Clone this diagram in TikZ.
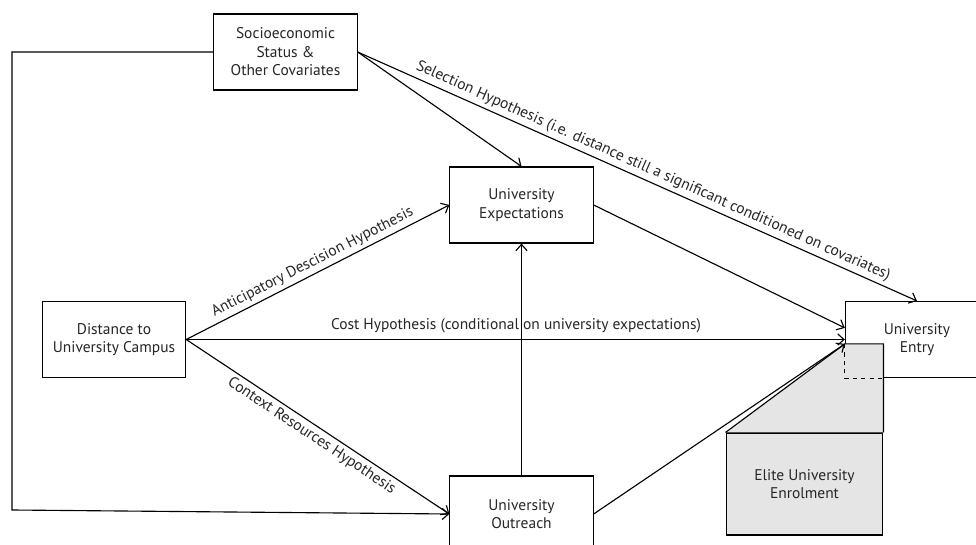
\documentclass[tikz,border=0pt]{standalone}
\usepackage{fontspec}
\setmainfont{PT Sans}
\usetikzlibrary{arrows.meta}
\begin{document}
\begin{tikzpicture}[x=0.025cm, y=-0.025cm, line width=0.8pt,
	>={Straight Barb[length=4.5pt,width=8pt]}, font=\fontsize{11}{13.2}\selectfont,
	bx/.style={draw,fill=white,align=center,text=black!85,
	minimum width=3.58cm,minimum height=1.9cm,inner sep=0pt},
	lbl/.style={sloped,inner sep=2.5pt,text=black!85}]
\useasboundingbox (0,0) rectangle (976,545);
\clip (0,0) rectangle (976,545);
\node[bx] (0) at (285.5, 52) {Socioeconomic\\Status \&\\Other Covariates};
\node[bx] (1) at (114, 339.5) {Distance to\\University Campus};
\node[bx] (2) at (521.5, 205) {University\\Expectations};
\node[bx] (3) at (521.5, 514) {University\\Outreach};
\node[bx] (4) at (917, 339.5) {University\\Entry};
\node[bx,fill=gray!20,minimum width=3.92cm,minimum height=2.55cm] (5) at (804.5, 484) {Elite University\\Enrolment};
\coordinate (tip) at ([yshift=-0.11cm]4.west);
\fill[gray!20] (5.north west) -- (tip) -- (tip -| 5.east) -- (5.north east) -- cycle;
\draw (5.north west) -- (tip) -- (tip -| 5.east) -- (5.north east);
\draw[dashed, line width=0.5pt] (tip) -- (4.south west) -- (4.south west -| 5.east);
\draw[->] (0.east) -- (2.north);
\draw[->] (0.east) -- node[lbl,above,pos=0.52] {Selection Hypothesis (i.e. distance still a significant conditioned on covariates)} (4.north);
\draw[->] (0.west) -| (12, 510) -- (3.west);
\draw[->] (1.east) -- node[lbl,above] {Anticipatory Descision Hypothesis} (2.west);
\draw[->] (1.east) -- node[lbl,below] {Context Resources Hypothesis} (3.west);
\node[lbl] (6) at (516, 326) {Cost Hypothesis (conditional on university expectations)};
\draw[->] (1.east) -- (4.west);
\draw[->] (3.north) -- (2.south);
\draw[->] (2.east) -- ([yshift=0.29cm]4.west);
\draw[->] (3.east) -- (tip);
\end{tikzpicture}
\end{document}
